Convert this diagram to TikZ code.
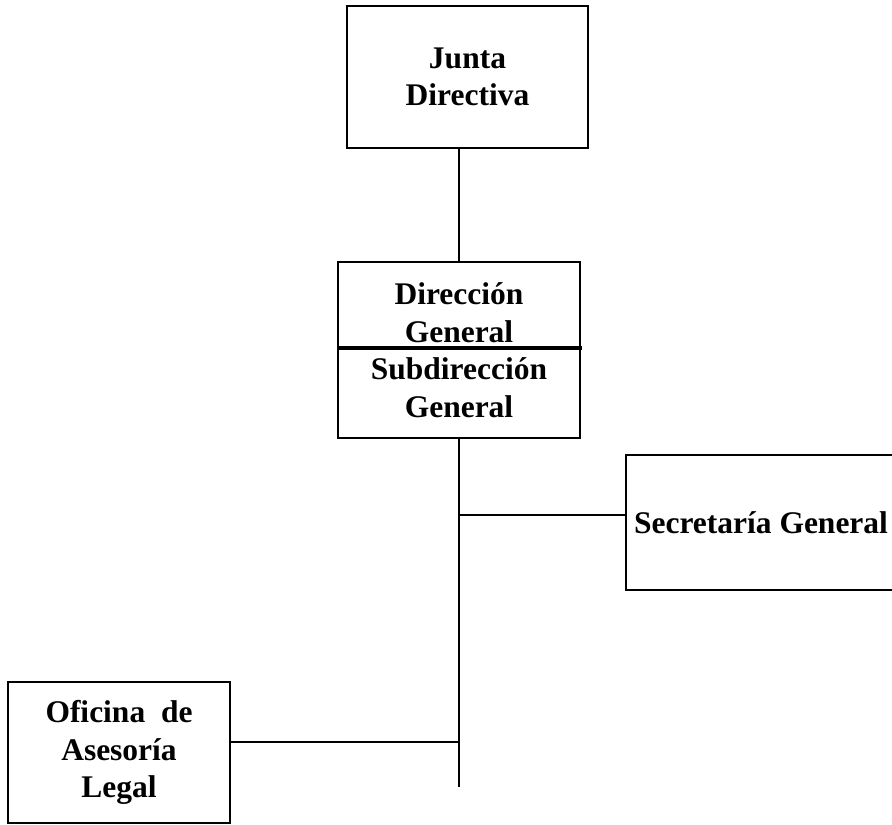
\documentclass[tikz,border=0pt]{standalone}
\usepackage{fontspec}
\setmainfont{Liberation Serif}
\begin{document}
\begin{tikzpicture}[x=1pt,y=-1pt,
  unit/.style={draw, line width=2pt, rectangle, inner sep=0pt, align=center,
    font=\bfseries\fontsize{31.5}{37.5}\selectfont},
  link/.style={line width=2pt}]
\clip (0,0) rectangle (892,825);
\node[unit, minimum width=241, minimum height=142] (junta) at (467.5,77) {Junta\\Directiva};
\node[unit, minimum width=242, minimum height=176] (dir) at (459,350) {Dirección\\General\\Subdirección\\General};
\node[unit, minimum width=270, minimum height=135] (sec) at (761,522.5) {Secretaría General};
\node[unit, minimum width=222, minimum height=141] (ofi) at (119,752.5) {Oficina\ \ de\\Asesoría\\Legal};
\coordinate (b1) at (459,515);
\coordinate (b2) at (459,742);
\coordinate (tend) at (459,787);
\draw[line width=3.5pt] (dir.west |- 0,348) -- ([xshift=1pt]dir.east |- 0,348);
\draw[link] (dir.north) -- (dir.north |- junta.south);
\draw[link] (dir.south) -- (tend);
\draw[link] (b1) -- (b1 -| sec.west);
\draw[link] (b2) -- (b2 -| ofi.east);
\end{tikzpicture}
\end{document}
